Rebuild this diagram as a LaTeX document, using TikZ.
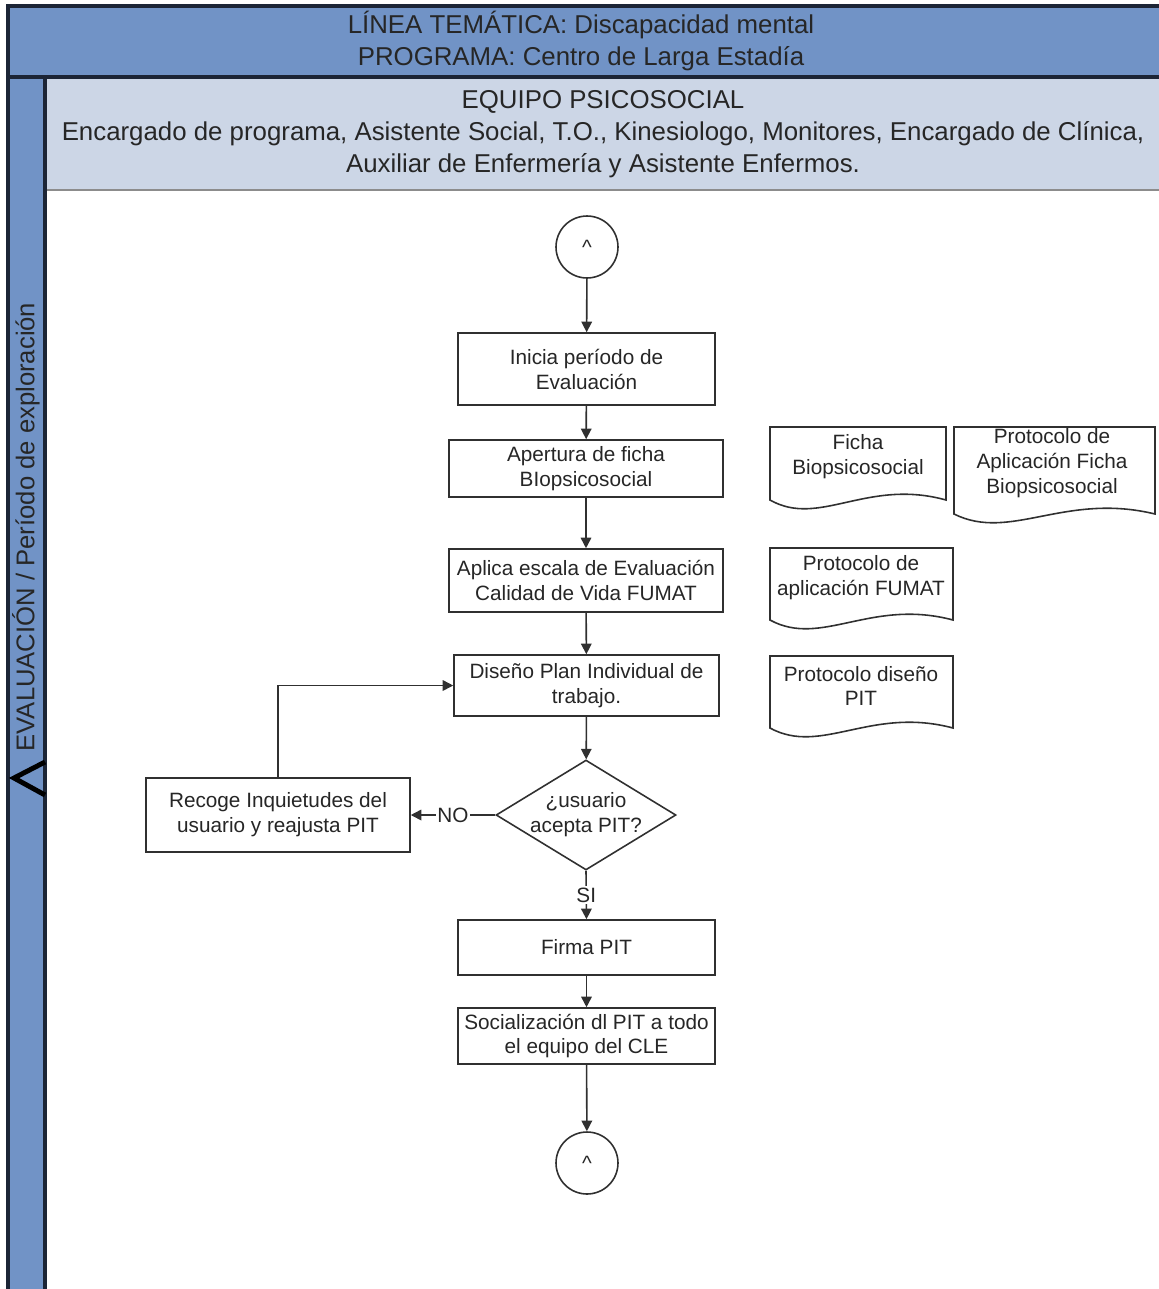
\documentclass[tikz,border=0pt]{standalone}
\usepackage{fontspec}
\setmainfont{Liberation Sans}
\usetikzlibrary{shapes.geometric,arrows.meta}

\definecolor{laneblue}{HTML}{7193C6}
\definecolor{bandgray}{HTML}{CCD6E6}
\definecolor{framenavy}{HTML}{1C2536}
\definecolor{boxline}{HTML}{303030}

% document symbol: x1, top, x2, bottom of the sides
\newcommand{\docsym}[4]{%
  \draw[docline] (#1,#4) -- (#1,#2) -- (#3,#2) -- (#3,#4)
    .. controls ({#1+0.55*(#3-#1)},{#4-22}) and ({#1+0.28*(#3-#1)},{#4+28}) .. cycle;}

\begin{document}
\begin{tikzpicture}[x=0.02cm, y=-0.02cm,
    every node/.style={font=\fontsize{11.8}{14.2}\selectfont, text=black!85, align=center},
    proc/.style={draw=boxline, line width=0.9pt, fill=white, inner sep=2pt},
    decision/.style={draw=boxline, line width=0.9pt, diamond, aspect=1.64, fill=white,
      inner sep=-4pt, minimum width=3.6cm, minimum height=2.2cm},
    conn/.style={draw=boxline, line width=0.9pt, circle, minimum size=1.24cm, inner sep=0pt},
    docline/.style={draw=boxline, line width=0.9pt, fill=white},
    flow/.style={draw=boxline, line width=0.9pt, -{Triangle[length=6pt,width=6pt]}},
    headtxt/.style={font=\fontsize{14.7}{18.1}\selectfont, text=black!85}]

    \useasboundingbox (0,0) rectangle (1159,1289);

    % Pool and lanes
    \fill[laneblue] (8,6) rectangle (1159,77);
    \fill[bandgray] (45,77) rectangle (1159,190);
    \fill[laneblue] (8,77) rectangle (45,1289);
    \draw[black!45, line width=1.2pt] (45,190) -- (1159,190);
    \draw[framenavy, line width=1.8pt] (8,1289) -- (8,6) -- (1159,6);
    \draw[framenavy, line width=1.8pt] (8,77) -- (1159,77);
    \draw[framenavy, line width=1.8pt] (45,77) -- (45,1289);
    \draw[black, line width=2.8pt] (45,762) -- (14,778) -- (45,795);

    \node[headtxt] (tema) at (581,41) {LÍNEA TEMÁTICA: Discapacidad mental\\PROGRAMA: Centro de Larga Estadía};
    \node[headtxt] (equipo) at (603,134) {EQUIPO PSICOSOCIAL\\Encargado de programa, Asistente Social, T.O., Kinesiologo, Monitores, Encargado de Clínica,\\Auxiliar de Enfermería y Asistente Enfermos.};
    \node[headtxt, font=\fontsize{14.6}{18}\selectfont, rotate=90] (etapa) at (26,527) {EVALUACIÓN / Período de exploración};

    % Flow
    \node[conn] (ini) at (587,247) {\textasciicircum};
    \node[proc, minimum width=5.14cm, minimum height=1.44cm] (inicia) at (586.5,369) {Inicia período de\\Evaluación};
    \node[proc, minimum width=5.48cm, minimum height=1.14cm] (ficha) at (586,468.5) {Apertura de ficha\\BIopsicosocial};
    \node[proc, minimum width=5.48cm, minimum height=1.26cm] (escala) at (586,580.5) {Aplica escala de Evaluación\\Calidad de Vida FUMAT};
    \node[proc, minimum width=5.3cm, minimum height=1.22cm] (diseno) at (586.5,685.5) {Diseño Plan Individual de\\trabajo.};
    \node[decision] (acepta) at (586,815) {¿usuario\\acepta PIT?};
    \node[proc, minimum width=5.28cm, minimum height=1.48cm] (recoge) at (278,815) {Recoge Inquietudes del\\usuario y reajusta PIT};
    \node[proc, minimum width=5.14cm, minimum height=1.1cm] (firma) at (586.5,947.5) {Firma PIT};
    \node[proc, minimum width=5.14cm, minimum height=1.12cm] (social) at (586.5,1036) {Socialización dl PIT a todo\\el equipo del CLE};
    \node[conn] (fin) at (587,1163) {\textasciicircum};

    \draw[flow] (ini) -- (inicia);
    \draw[flow] (inicia) -- (ficha);
    \draw[flow] (ficha) -- (escala);
    \draw[flow] (escala) -- (diseno);
    \draw[flow] (diseno) -- (acepta);
    \draw[flow] (acepta.west) -- node[fill=white, inner sep=1pt] {NO} (recoge.east);
    \draw[flow] (recoge.north) |- (diseno.west);
    \draw[flow] (acepta.south) -- node[fill=white, inner sep=1pt] {SI} (firma.north);
    \draw[flow] (firma) -- (social);
    \draw[flow] (social) -- (fin);

    % Documents
    \docsym{770}{427}{946}{500}
    \docsym{954}{427}{1155}{514}
    \docsym{770}{548}{953}{620}
    \docsym{770}{656}{953}{728}
    \node (docficha) at (858,457) {Ficha\\Biopsicosocial};
    \node (docprotficha) at (1052,463) {Protocolo de\\Aplicación Ficha\\Biopsicosocial};
    \node (docfumat) at (861,578) {Protocolo de\\aplicación FUMAT};
    \node (docpit) at (861,686) {Protocolo diseño\\PIT};
\end{tikzpicture}
\end{document}
